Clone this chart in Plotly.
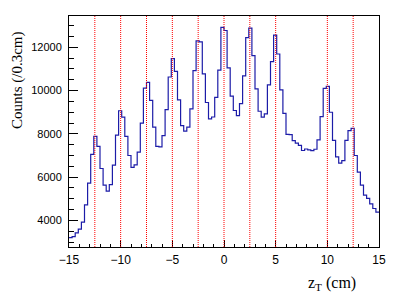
import numpy as np
import plotly.graph_objects as go

# ---- data ----
x_min, x_max, bin_width = -15.0, 15.0, 0.3
counts = [
    3200, 3250, 3420, 3600, 3920, 4720, 5720, 7050, 7880, 7420,
    6400, 5630, 5350, 5650, 6560, 7940, 9070, 8770, 7880, 7000,
    6450, 6570, 7155, 8500, 10120, 10380, 9550, 8310, 7420, 7400,
    7920, 9120, 10630, 11480, 10890, 9570, 8380, 8130, 8310, 9160,
    10920, 12300, 12250, 10770, 9450, 8690, 8780, 9690, 10950, 12920,
    12780, 11050, 9750, 9080, 8840, 9400, 10685, 12450, 12885, 11615,
    10077, 9047, 8770, 8923, 10262, 11339, 12569, 11692, 10031, 8950,
    7980, 7970, 7690, 7570, 7470, 7232, 7300, 7260, 7230, 7290,
    7720, 8800, 10100, 10200, 9000, 7700, 6940, 6650, 6760, 7700,
    8150, 8250, 7000, 6232, 5630, 5170, 5020, 4760, 4550, 4380,
]
target_positions = [-12.5, -10, -7.5, -5, -2.5, 0, 2.5, 5, 10, 12.5]
x_tick_vals = [-15, -10, -5, 0, 5, 10, 15]
y_tick_vals = [4000, 6000, 8000, 10000, 12000]
y_tick_text = ["4000", "6000", "8000", "10000", "12000"]

n_bins = len(counts)
edges = x_min + bin_width * np.arange(n_bins + 1)
step_y = counts + [counts[-1]]

fig = go.Figure()
fig.add_trace(go.Scatter(
    x=edges, y=step_y, mode="lines", line_shape="hv",
    line=dict(color="#1c1ca8", width=1.2), showlegend=False, hoverinfo="skip",
))

for p in target_positions:
    fig.add_shape(type="line", x0=p, x1=p, xref="x", y0=0, y1=1, yref="paper",
                  line=dict(color="red", width=1, dash="1px,1px"), layer="above")

# page body has an 8px default margin: figure is placed at (8, 8)
OFF = 8
W, H = 395 - OFF, 307 - OFF
L, R, T, B = 61, 16, 8, 60
pw, ph = W - L - R, H - T - B


def px_x(sx):
    return (sx - OFF - L) / pw


def px_y(sy):
    return (H - B - (sy - OFF)) / ph


fig.update_layout(
    width=W, height=H,
    margin=dict(l=L, r=R, t=T, b=B, pad=0),
    paper_bgcolor="white", plot_bgcolor="white",
    font=dict(family="Liberation Sans, Arial, sans-serif", size=12, color="black"),
    xaxis=dict(
        range=[x_min, x_max], tickvals=x_tick_vals, ticks="inside", ticklen=7,
        tickwidth=1, tickcolor="black", showgrid=False, zeroline=False,
        showline=True, linecolor="black", linewidth=1, mirror=True,
        tickfont=dict(size=12), ticklabelstandoff=2,
        minor=dict(ticks="inside", ticklen=3.5, tickwidth=1, tickcolor="black",
                   dtick=1, tick0=-15, showgrid=False),
    ),
    yaxis=dict(
        range=[2770, 13450], tickvals=y_tick_vals, ticktext=y_tick_text,
        ticks="inside", ticklen=9,
        tickwidth=1, tickcolor="black", showgrid=False, zeroline=False,
        showline=True, linecolor="black", linewidth=1, mirror=True,
        tickfont=dict(size=11), ticklabelstandoff=4,
        minor=dict(ticks="inside", ticklen=5, tickwidth=1, tickcolor="black",
                   dtick=500, tick0=0, showgrid=False),
    ),
    annotations=[
        dict(text="Counts (/0.3cm)", textangle=-90, xref="paper", yref="paper",
             x=px_x(17), y=px_y(29), xanchor="center", yanchor="top",
             showarrow=False, font=dict(family="Liberation Serif, Times New Roman, serif", size=15)),
        dict(text="z<sub>T</sub> (cm)", xref="paper", yref="paper",
             x=px_x(358), y=px_y(283), xanchor="right", yanchor="middle",
             showarrow=False, font=dict(family="Liberation Serif, Times New Roman, serif", size=16)),
    ],
)

fig.write_html("out.html")
